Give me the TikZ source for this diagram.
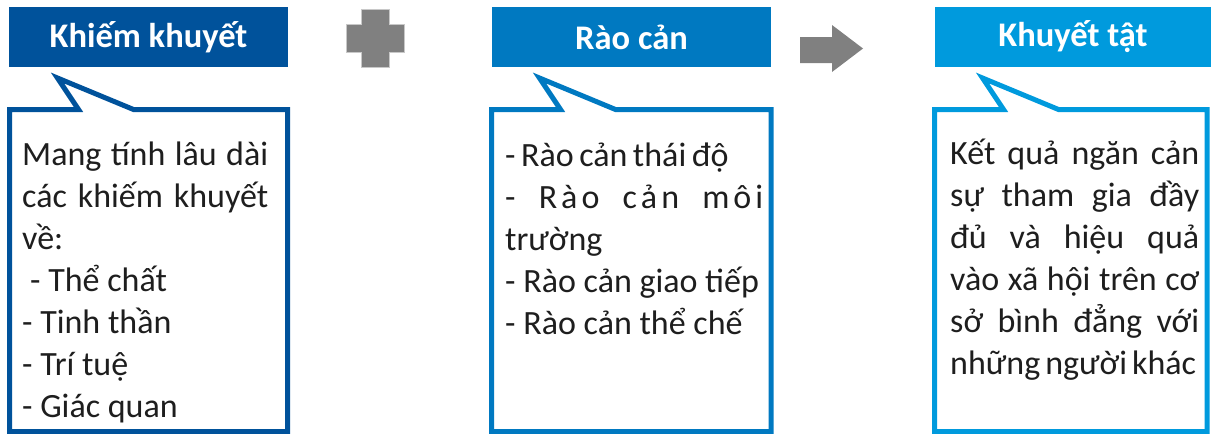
\documentclass[tikz,border=0pt]{standalone}
\usepackage{fontspec}
\setmainfont{Carlito}
\definecolor{blueA}{HTML}{00529B}
\definecolor{blueB}{HTML}{0079C1}
\definecolor{blueC}{HTML}{009ADD}
\definecolor{signgray}{HTML}{808080}
\definecolor{signedge}{HTML}{C8C8C8}
\definecolor{ink}{HTML}{1E1E1E}
% one justified line of a given width
\newcommand\jline[2]{\makebox[#1pt][s]{#2}}
\tikzset{
  header/.style={fill=#1, minimum height=60pt, inner sep=0pt,
    text=white, font=\fontsize{34.5}{40}\selectfont\bfseries},
  bubble/.style={draw=#1, line width=5pt, fill=white, line join=miter},
  bodytext/.style={anchor=base west, inner sep=0pt, align=left, text=ink,
    font=\fontsize{34}{42}\selectfont},
  sign/.style={fill=signgray, draw=signedge, line width=0.8pt},
}
\begin{document}
\begin{tikzpicture}[x=1pt,y=-1pt]
\useasboundingbox (0,0) rectangle (1211,434);
\clip (0,0) rectangle (1211,434);

% header bars
\node[header=blueA, minimum width=279pt] (h1) at (148.5,37) {Khiếm khuyết};
\node[header=blueB, minimum width=279pt] (h2) at (631.5,37) {Rào cản};
\node[header=blueC, minimum width=276pt] (h3) at (1073,37) {Khuyết tật};

% plus sign and arrow between the bars
\draw[sign] (361,9) -- (389,9) -- (389,24) -- (404,24) -- (404,52) -- (389,52)
  -- (389,67) -- (361,67) -- (361,52) -- (346,52) -- (346,24) -- (361,24) -- cycle;
\draw[sign, draw=none] (800,37) -- (832,37) -- (832,25) -- (863,48.5)
  -- (832,72) -- (832,63) -- (800,63) -- cycle;

% speech bubbles under the bars
\foreach \l/\r/\c in {9.5/287.5/blueA, 491.5/771/blueB, 934.5/1207/blueC}{
  \draw[bubble=\c] (\l,109.5) -- ({\l+69},109.5) -- ({\l+48},78)
    -- ({\l+124},109.5) -- (\r,109.5) -- (\r,431.5) -- (\l,431.5) -- cycle;
}

% bubble texts (each node is placed by the baseline of its last line)
\node[bodytext] (t1) at (22,417) {%
  \jline{246}{Mang tính lâu dài}\\
  \jline{246}{các khiếm khuyết}\\
  về:\\
  \hspace{8pt}- Thể chất\\
  - Tinh thần\\
  - Trí tuệ\\
  - Giác quan};

\node[bodytext] (t2) at (505,334) {%
  \spaceskip=5.5pt plus 40pt\relax
  - Rào cản thái độ\\
  \jline{258}{-\hfill R\hspace{4pt}à\hspace{4pt}o\hfill c\hspace{4pt}ả\hspace{4pt}n\hfill m\hspace{4pt}ô\hspace{4pt}i}\\
  trường\\
  - Rào cản giao tiếp\\
  - Rào cản thể chế};

\node[bodytext] (t3) at (950,374) {%
  \jline{249}{Kết quả ngăn cản}\\
  \jline{249}{sự tham gia đầy}\\
  \jline{249}{đủ và hiệu quả}\\
  \jline{249}{vào xã hội trên cơ}\\
  \jline{249}{sở bình đẳng với}\\
  {\spaceskip=5pt plus 1pt minus 1pt\relax những người khác}};
\end{tikzpicture}
\end{document}
